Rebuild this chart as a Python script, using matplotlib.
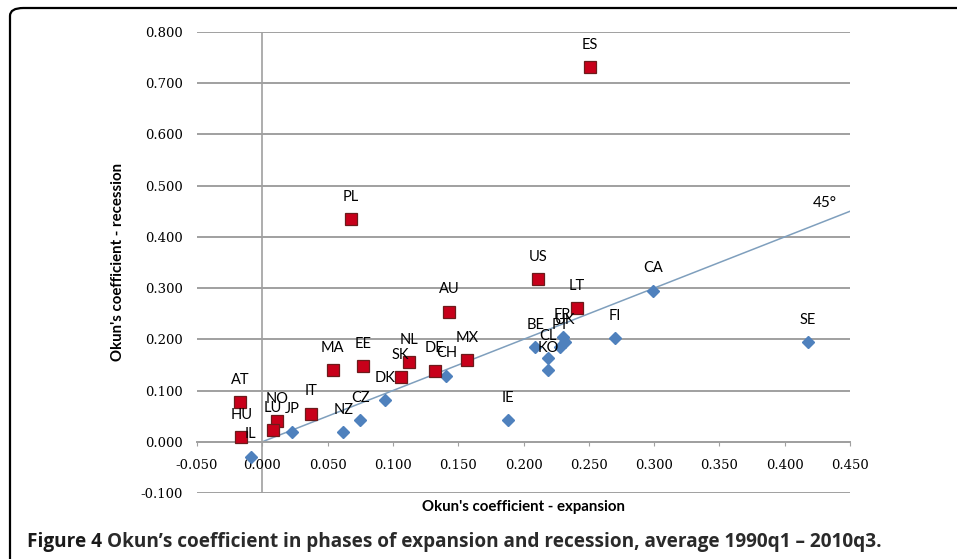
import matplotlib as mpl
mpl.use("Agg")
import matplotlib.pyplot as plt
from matplotlib.patches import FancyBboxPatch

# countries with recession coefficient above the 45 degree line (red squares)
red_names = ["ES", "PL", "AU", "US", "LT", "MA", "EE", "NL", "SK", "DE",
             "MX", "AT", "HU", "NO", "LU", "IT"]
red_exp = [0.251, 0.068, 0.143, 0.211, 0.241, 0.054, 0.077, 0.112, 0.106, 0.132,
           0.157, -0.017, -0.016, 0.011, 0.008, 0.037]
red_rec = [0.732, 0.435, 0.254, 0.317, 0.261, 0.140, 0.148, 0.155, 0.127, 0.139,
           0.160, 0.077, 0.009, 0.041, 0.023, 0.055]

# countries below the line (blue diamonds)
blue_names = ["IL", "JP", "NZ", "CZ", "DK", "CH", "IE", "BE", "CL", "KO",
              "FR", "UK", "PT", "FI", "CA", "SE"]
blue_exp = [-0.009, 0.023, 0.062, 0.075, 0.094, 0.141, 0.188, 0.209, 0.219, 0.219,
            0.230, 0.232, 0.228, 0.270, 0.299, 0.418]
blue_rec = [-0.029, 0.020, 0.019, 0.043, 0.082, 0.129, 0.042, 0.185, 0.163, 0.140,
            0.205, 0.195, 0.185, 0.202, 0.295, 0.195]

line_x = [0.0, 0.45]

xticks = [-0.05 + 0.05 * i for i in range(11)]
yticks = [-0.1 + 0.1 * i for i in range(10)]

fig = plt.figure(figsize=(9.57, 5.59), dpi=100)
W, H = 957, 559
ax = fig.add_axes([197 / W, (H - 493) / H, (850 - 197) / W, (493 - 32) / H])

ax.set_xlim(-0.05, 0.45)
ax.set_ylim(-0.1, 0.8)

for y in yticks:
    ax.axhline(y, color="#a0a0a0", lw=1.4, zorder=1)
ax.axvline(0, color="#a0a0a0", lw=1.2, zorder=1)

ax.plot(line_x, line_x, color="#7f9fbd", lw=1.1, zorder=2)
ax.text(0.431, 0.466, "45°", fontsize=11, family="Lato", ha="center", va="center")

ax.plot(blue_exp, blue_rec, ls="none", marker="D", ms=6.6, color="#4f81bd",
        mec="#4f81bd", zorder=3)
ax.plot(red_exp, red_rec, ls="none", marker="s", ms=8, color="#c8001a",
        mec="#6b1b1b", mew=0.9, zorder=4)

for names, xs, ys in [(red_names, red_exp, red_rec), (blue_names, blue_exp, blue_rec)]:
    for n, x, y in zip(names, xs, ys):
        ax.annotate(n, (x, y), xytext=(0, 16), textcoords="offset points",
                    ha="center", va="center", fontsize=10.5, family="Lato", zorder=5)

for s in ["top", "right", "left"]:
    ax.spines[s].set_visible(False)
ax.spines["bottom"].set_position(("data", 0))
ax.spines["bottom"].set_color("#a0a0a0")
ax.spines["bottom"].set_linewidth(1.4)

ax.set_xticks(xticks)
ax.set_yticks(yticks)
ax.set_xticklabels(["%.3f" % v for v in xticks], family="DejaVu Serif", fontsize=9.5)
ax.set_yticklabels(["%.3f" % v for v in yticks], family="DejaVu Serif", fontsize=9.5)
ax.tick_params(axis="x", direction="out", length=3, color="#a0a0a0", pad=9.5)
ax.tick_params(axis="y", length=0, pad=10)

fig.text(524 / W, 1 - 507 / H, "Okun's coefficient - expansion", ha="center", va="center",
         fontsize=10.8, fontweight="bold", family="Lato")
fig.text(118 / W, 1 - 262 / H, "Okun's coefficient - recession", ha="center", va="center",
         rotation=90, fontsize=10.8, fontweight="bold", family="Lato")

t1 = fig.text(27 / W, 1 - 547 / H, "Figure 4 ", ha="left", va="baseline",
              fontsize=13.7, fontweight="bold", family="Open Sans", color="#1a1a1a")
cap = plt.Annotation(
    "Okun’s coefficient in phases of expansion and recession, average 1990q1 – 2010q3.",
    xy=(1, 0), xycoords=t1, va="bottom", ha="left",
    fontsize=13.7, fontweight="bold", family="Open Sans", color="#2a2a2a")
fig.add_artist(cap)

frame = FancyBboxPatch((10 / W, 1 - 580 / H), 1.2, 572 / H,
                       boxstyle="round,pad=0,rounding_size=0.014",
                       transform=fig.transFigure, fill=False, ec="black", lw=1.6)
fig.patches.append(frame)

fig.savefig("out.png", dpi=100)
